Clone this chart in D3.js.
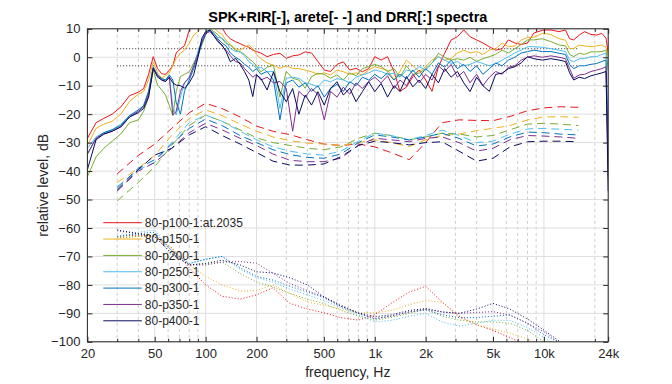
<!DOCTYPE html>
<html>
<head>
<meta charset="utf-8">
<script src="https://cdn.jsdelivr.net/npm/d3@7"></script>
<style>
  body { margin: 0; background: #fff; }
  text { font-family: Arial, "Liberation Sans", Helvetica, sans-serif; fill: #262626; }
</style>
</head>
<body>
<div id="chart"></div>
<script>
// Axis ticks
const xTicks = [20, 50, 100, 200, 500, 1000, 2000, 5000, 10000, 24000];
const xTickLabels = ["20", "50", "100", "200", "500", "1k", "2k", "5k", "10k", "24k"];
const xMinor = [30, 40, 60, 70, 80, 90, 300, 400, 600, 700, 800, 900, 3000, 4000, 6000, 7000, 8000, 9000, 20000];
const yTicks = [-100, -90, -80, -70, -60, -50, -40, -30, -20, -10, 0, 10];

const seriesNames = ["80-p100-1:at.2035", "80-p150-1", "80-p200-1", "80-p250-1", "80-p300-1", "80-p350-1", "80-p400-1"];
const seriesColors = ["#e8161b", "#edb120", "#77ac30", "#4dbeee", "#0072bd", "#7e2f8e", "#0a0a5e"];

// Reference band (+/-3 dB)
const refFreq = [30, 16000];
const refLevels = [3, -3];

// SPK+RIR spectra (solid)
const spkFreq = [20, 22.5, 25, 28, 31.5, 35.5, 40, 43, 46, 49,
  52, 55, 58, 61, 64, 67, 71, 75, 80, 85,
  90, 95, 100, 106, 112, 118, 125, 132, 140, 150,
  160, 170, 180, 190, 200,
  212, 231, 252, 275, 300, 327, 356, 388, 423, 461,
  503, 548, 598, 652, 711, 775, 845, 921, 1000, 1090,
  1190, 1300, 1410, 1540, 1680, 1830, 2000, 2180, 2380, 2590,
  2830, 3080, 3360, 3660, 4000, 4360, 4760, 5190, 5660, 6170,
  6730, 7340, 8000,
  8720, 9800, 11000, 12300, 13400, 14200, 15000, 16200, 17400, 19000,
  20500, 22000, 23300, 24000];

const spk_p100 = [-28.5, -23, -21.5, -20, -17.5, -13.5, -12.3, -11, -6, 0.2,
  -4, -5.8, -6, -4.5, -3, 1.5, 3, 4, 9.5, 12,
  13, 13, 13, 13, 12, 11, 10.5, 8, 6.5, 5.5,
  4.8, 4, 3.5, 2.5, 2,
  1.5, 0.2, 1, 1.4, -0.4, 0.5, 0.8, 1.9, 1.5, -1.5,
  -4.5, -5, -2.5, -1.6, -4.5, -3.9, -5.1, -4, 0.2, -1,
  0.2, -5, -12, -10.5, -6.8, -4.5, -8, -12, -3.3, 1.4,
  6.1, 7.2, 9.6, 7.2, 6.1, 5, 3.7, 2.5, 3, 6.1,
  5, 4.5, 5,
  8.5, 9.5, 9.6, 9, 9.6, 6.5, 6.1, 7.8, 9, 8,
  7.8, 8.4, 6.7, 1.4];

const spk_p150 = [-31, -25, -23.5, -22.5, -20, -15.5, -13, -12, -8, -1.6,
  -5.5, -7.2, -6.5, -5.6, -3, -0.4, 1.4, 2.5, 5, 7.8,
  9, 10.5, 11, 11, 10.5, 9, 8, 6, 4.5, 3,
  2.5, 3.5, 4.3, 3, 1,
  -0.5, -2, -2.8, -3.9, -3, -3.9, -4, -4.5, -5.1, -6,
  -5.5, -6.2, -4.5, -5.1, -6, -5.5, -6.2, -4.5, -3.3, -4,
  -4.5, -7.9, -5, -1, -3, -5, -3.3, -1, 0.2, -1,
  -0.5, 1.5, 2.5, 1.5, 2, 1, 2.5, 3, 5, 3.7,
  4, 6, 7,
  7, 8.4, 8, 6.5, 6, 3, 3.1, 4.3, 4, 3.7,
  4, 4.3, 3.5, 0.2];

const spk_p200 = [-42, -35, -32, -29.5, -27, -23, -22, -19, -14, -4.5,
  -9.8, -11.5, -13.3, -17, -20.5, -12, -6.8, -6, -5.1, -2,
  1, 4.3, 8, 10, 9, 8, 6.5, 4.8, 4.3, 2.5,
  1.9, 1, -0.5, -1.6, -3,
  -5.1, -3.5, -2.8, -14, -5, -7.4, -8, -10.9, -6.8, -5.6,
  -6, -7.4, -6.2, -8, -5.5, -6.5, -4, -3.3, -2.5, -3.3,
  -5, -4, -7, -3, -6, -5.6, -4, -2, 1.4, 0,
  -1, -0.5, -1, 0, -1.5, -0.5, 0.2, 1, 2.5, 1.5,
  3, 4.5, 6.1,
  6.1, 6.5, 5.5, 4.3, 4, 1, 0.2, 1.4, 1, 1.9,
  1.9, 2, 2.5, -4.5];

const spk_p250 = [-32, -28, -26.5, -25.5, -23.5, -20.5, -19, -17, -12, -3.3,
  -6.5, -7.5, -8, -6.5, -17.4, -20.3, -14, -9, -7.4, -3,
  2, 6, 8.5, 9.5, 8, 7, 6.7, 5.5, 3.1, 2,
  1.9, 0.5, -1.6, -2.5, -3.9,
  -3.5, -5.1, -5, -18, -7.4, -7, -7.4, -9, -9.5, -10.4,
  -8, -8.6, -7.5, -8, -9, -7, -6.2, -5.5, -4.5, -5,
  -6, -5.6, -7, -4.5, -5, -3.3, -4.5, -2, 0.2, -1,
  -2.2, -1.5, -3, -2.5, -1.5, -2.2, -3, -2.2, -1, 0.2,
  1.5, 2.5, 3.7,
  3.7, 3.5, 3, 2.5, 2, -1, -1.6, -0.5, -0.5, 0.2,
  0.2, 1, 1.4, -30];

const spk_p300 = [-34, -28.5, -26.5, -25.5, -24, -20.5, -18.5, -17, -12, -3.5,
  -6.2, -7.5, -8, -6.2, -8, -16, -20, -12, -8, -4,
  0, 5, 8, 9.5, 8.4, 6.5, 5, 4, 1.5, 0,
  -1, -2.5, -3.5, -5, -4,
  -6, -5, -8, -22, -9, -8, -10.5, -9, -12, -10,
  -14, -11, -9.5, -12, -8.6, -10, -7, -8, -6, -7.5,
  -5.5, -8, -6, -7.5, -4.5, -7, -4, -6, -2, -3.5,
  -1, -4, -2.5, -5, -3, -6, -4, -2, -3, -1,
  0, 1.5, 2,
  2.5, 2, 2, 1.4, 1, -2.5, -4, -3, -3, -2.5,
  -2.2, -1.5, -1, -38];

const spk_p350 = [-34, -28.5, -27, -26, -24.5, -21, -19, -17.5, -13, -3.8,
  -6.5, -8, -8.5, -7, -20.3, -19, -12, -9, -7, -3,
  1, 5.5, 8.5, 9, 7.5, 6, 4, 2.5, 0.5, -1.5,
  -2, -4, -5.5, -7, -6,
  -8, -7, -9, -8.5, -11, -26, -12, -14, -11, -13,
  -22, -12, -14, -10.5, -13, -9, -11, -8.5, -7, -9,
  -6.5, -11, -8, -10, -6, -9, -6, -8, -3, -5,
  -2.5, -7, -5, -9, -6, -10, -7, -5, -6, -3.5,
  -3, -1, 0,
  0.5, 0, 0.5, 0, -0.5, -4, -7.4, -6.2, -6, -5,
  -4.5, -4, -3.3, -42];

const spk_p400 = [-39.5, -29, -27, -26, -24.5, -21, -19.5, -18, -14, -4,
  -7, -8, -8.5, -7, -9, -9.8, -10, -10.9, -9, -6.2,
  0, 6.7, 9, 9.6, 7.5, 5.5, 4.3, 2, -1.6, -0.4,
  -2.5, -5.1, -8, -13.8, -6.2,
  -7.4, -11.5, -5.1, -12.1, -15.6, -11, -20, -13.3, -16.8, -12.1,
  -16.8, -10.9, -8.6, -13.3, -10.9, -15.6, -12.1, -8.6, -12.1, -9.2,
  -14, -10, -12, -6.8, -10.4, -8, -11, -6, -9, -4,
  -7, -5, -9, -12.1, -7, -10, -12, -6, -5.6, -4,
  -3.3, -2, 0.2,
  -0.5, -1, -0.5, -1, -1.5, -5.5, -8, -7, -7.5, -6.5,
  -6, -5.5, -5, -47];

// arete spectra (dashed)
const areteFreq = [30, 40, 50, 63, 80, 100, 125, 160, 200, 250, 315, 400, 500, 630,
  800, 1000, 1250, 1600, 2000, 2500, 3150, 4000, 5000, 6300, 8000, 10000, 12500, 16000];

const arete_p100 = [-41, -34.5, -30.5, -25, -19.5, -16.2, -18, -21, -24.2, -26, -27.2, -29, -30.5, -31,
  -30.5, -31.5, -33.5, -36, -30, -23, -22, -22.2, -22.3, -20.8, -18.8, -17.8, -17.4, -17.6];
const arete_p150 = [-44, -39, -34.5, -27.5, -21.5, -18.5, -20.5, -23.5, -26, -28, -29.3, -30.2, -30.5, -31,
  -30, -29, -30, -31.4, -29, -27.5, -27, -25.8, -25, -24, -22, -21, -20.9, -21.1];
const arete_p200 = [-50.5, -44, -38.5, -31, -24, -20.3, -22.5, -25.5, -28.3, -30, -31, -32, -32.5, -31.5,
  -28.5, -26.7, -27.5, -29, -28, -26.7, -27, -28, -27.5, -25.5, -23.5, -23.2, -23.5, -24];
const arete_p250 = [-45.5, -39.5, -37, -30, -23, -20.3, -22.5, -26, -29, -31.5, -33, -34, -34.4, -33,
  -29.5, -26.7, -27.5, -29, -27.5, -25.6, -27.5, -30, -29.5, -27, -25.2, -25, -25.3, -25.6];
const arete_p300 = [-46, -39, -36, -30.5, -25, -21.7, -24, -27.5, -30, -32.5, -34.2, -35.2, -35.5, -34,
  -30, -27.3, -28, -29.1, -28, -26.7, -28.5, -31.2, -30.5, -28, -26.3, -26.5, -27, -27.3];
const arete_p350 = [-47, -40, -37, -32, -26.5, -23.2, -25.5, -28.5, -31, -34, -36.2, -36.7, -36.7, -35.5,
  -31, -28.5, -29, -29.7, -28.5, -28, -30, -33, -32, -29, -27.5, -27.7, -28, -28.5];
const arete_p400 = [-46.7, -39.5, -34.4, -32, -27.3, -24.4, -27.5, -30.5, -33.5, -36.5, -37.9, -37.9, -37.5, -35,
  -31, -29.5, -30, -30.8, -30, -29.7, -33, -36.5, -35.5, -31.5, -29.7, -29.5, -29.5, -29.7];

// DRR spectra (dotted)
const drrFreq = [30, 40, 50, 63, 80, 100, 125, 160, 200, 250, 315, 400, 500, 630,
  800, 1000, 1250, 1600, 2000, 2500, 3150, 4000, 5000, 6300, 8000, 10000, 12500];

const drr_p100 = [-63, -62.5, -63, -67, -74, -80, -84, -85, -83.5, -81, -86.5, -88.5, -89.8, -91.5,
  -92.4, -90.5, -86.5, -82.5, -80.5, -86, -91, -94, -96, -98.5, -101.5, -104, -107];
const drr_p150 = [-63.5, -63, -63, -67, -73, -77, -80, -82.2, -82, -80, -83, -86, -87.2, -88.5,
  -89.8, -89.8, -89, -87, -85.5, -86, -91.5, -94, -95.5, -97, -99, -101.5, -104];
const drr_p200 = [-63.5, -63, -62.5, -68, -73, -72.5, -72, -76, -79, -80.7, -83, -85, -86.5, -89,
  -91, -92.4, -91.5, -90, -88.6, -91, -92.4, -93, -93, -93.5, -96, -100, -103];
const drr_p250 = [-63, -61.5, -60.7, -68, -72.5, -71, -70, -74.5, -77.5, -79, -81.5, -83.5, -85.5, -88,
  -90.5, -93, -92.5, -91, -90, -93, -94.5, -93.5, -92.4, -92.5, -95, -98.5, -102];
const drr_p300 = [-63, -62, -61.5, -68, -72.5, -71, -70, -74, -77, -78.3, -80.5, -82.5, -84.5, -87.5,
  -90, -92, -91, -89.5, -88.8, -90.5, -91.5, -91.5, -91, -90.6, -93.5, -97.5, -100.5];
const drr_p350 = [-61, -62, -63, -69, -73, -73, -72, -71.8, -72.4, -75.9, -79.5, -82, -84.2, -87,
  -90, -91.8, -91, -89.5, -88.6, -89.5, -90, -89.7, -89.4, -90.6, -93.5, -96.5, -100.5];
const drr_p400 = [-60.7, -62, -63, -69, -73, -72.5, -71.3, -73, -75.4, -75.8, -77.5, -80, -84.2, -87.5,
  -89.8, -91.2, -90.5, -89, -88.3, -89.5, -90, -88.5, -86.5, -88.5, -92, -95.9, -100];

const spkSeries = [spk_p100, spk_p150, spk_p200, spk_p250, spk_p300, spk_p350, spk_p400];
const areteSeries = [arete_p100, arete_p150, arete_p200, arete_p250, arete_p300, arete_p350, arete_p400];
const drrSeries = [drr_p100, drr_p150, drr_p200, drr_p250, drr_p300, drr_p350, drr_p400];

function createSpectraChart(selector) {
    const totalWidth = 672;
    const totalHeight = 384;
    const margin = {top: 28.8, right: 63.8, bottom: 42.2, left: 87.4};
    const width = totalWidth - margin.left - margin.right;
    const height = totalHeight - margin.top - margin.bottom;
    const axisColor = "#262626";

    const xScale = d3.scaleLog()
        .domain([20, 24000])
        .range([0, width]);

    const yScale = d3.scaleLinear()
        .domain([-100, 10])
        .range([height, 0]);

    const svg = d3.select(selector)
        .append("svg")
        .attr("width", totalWidth)
        .attr("height", totalHeight);

    svg.append("defs").append("clipPath")
        .attr("id", "plot-clip")
        .append("rect")
        .attr("width", width)
        .attr("height", height);

    const g = svg.append("g")
        .attr("transform", "translate(" + margin.left + "," + margin.top + ")");

    // Minor grid (log decades)
    g.append("g").selectAll("line")
        .data(xMinor)
        .enter().append("line")
        .attr("x1", d => xScale(d))
        .attr("x2", d => xScale(d))
        .attr("y1", 0)
        .attr("y2", height)
        .attr("stroke", "#cdcdcd")
        .attr("stroke-width", 1)
        .attr("stroke-dasharray", "3,3");

    // Major grid
    g.append("g").selectAll("line")
        .data(xTicks)
        .enter().append("line")
        .attr("x1", d => xScale(d))
        .attr("x2", d => xScale(d))
        .attr("y1", 0)
        .attr("y2", height)
        .attr("stroke", "#dedede")
        .attr("stroke-width", 1);

    g.append("g").selectAll("line")
        .data(yTicks)
        .enter().append("line")
        .attr("x1", 0)
        .attr("x2", width)
        .attr("y1", d => yScale(d))
        .attr("y2", d => yScale(d))
        .attr("stroke", "#dedede")
        .attr("stroke-width", 1);

    const plot = g.append("g").attr("clip-path", "url(#plot-clip)");

    // +/-3 dB reference lines
    plot.selectAll(".ref")
        .data(refLevels)
        .enter().append("line")
        .attr("class", "ref")
        .attr("x1", xScale(refFreq[0]))
        .attr("x2", xScale(refFreq[1]))
        .attr("y1", d => yScale(d))
        .attr("y2", d => yScale(d))
        .attr("stroke", "#333")
        .attr("stroke-width", 1)
        .attr("stroke-dasharray", "1,2");

    const line = d3.line()
        .x(d => xScale(d[0]))
        .y(d => yScale(d[1]));

    // Draw one solid, dashed and dotted curve per measurement
    seriesNames.forEach((name, i) => {
        plot.append("path")
            .attr("d", line(d3.zip(drrFreq, drrSeries[i])))
            .attr("fill", "none")
            .attr("stroke", seriesColors[i])
            .attr("stroke-width", 1)
            .attr("stroke-dasharray", "1,2");

        plot.append("path")
            .attr("d", line(d3.zip(areteFreq, areteSeries[i])))
            .attr("fill", "none")
            .attr("stroke", seriesColors[i])
            .attr("stroke-width", 1)
            .attr("stroke-dasharray", "8,5");
    });

    seriesNames.forEach((name, i) => {
        plot.append("path")
            .attr("d", line(d3.zip(spkFreq, spkSeries[i])))
            .attr("fill", "none")
            .attr("stroke", seriesColors[i])
            .attr("stroke-width", 1)
            .attr("stroke-linejoin", "round");
    });

    // Axes (ticks inside, box on)
    const xAxis = g.append("g")
        .attr("transform", "translate(0," + height + ")")
        .call(d3.axisBottom(xScale)
            .tickValues(xTicks)
            .tickFormat((d, i) => xTickLabels[i])
            .tickSize(-5)
            .tickPadding(7));

    g.append("g")
        .attr("transform", "translate(0," + height + ")")
        .call(d3.axisBottom(xScale).tickValues(xMinor).tickFormat("").tickSize(-3));

    g.append("g")
        .call(d3.axisTop(xScale).tickValues(xTicks).tickFormat("").tickSize(-5));

    g.append("g")
        .call(d3.axisTop(xScale).tickValues(xMinor).tickFormat("").tickSize(-3));

    const yAxis = g.append("g")
        .call(d3.axisLeft(yScale)
            .tickValues(yTicks)
            .tickSize(-5)
            .tickPadding(7));

    g.append("g")
        .attr("transform", "translate(" + width + ",0)")
        .call(d3.axisRight(yScale).tickValues(yTicks).tickFormat("").tickSize(-5));

    g.selectAll(".domain").remove();
    g.selectAll(".tick line").attr("stroke", axisColor);
    g.selectAll(".tick text")
        .style("font-size", "13px")
        .style("fill", axisColor);

    g.append("rect")
        .attr("width", width)
        .attr("height", height)
        .attr("fill", "none")
        .attr("stroke", axisColor)
        .attr("stroke-width", 1);

    // Legend (no box)
    const legend = g.append("g")
        .attr("transform", "translate(" + (103.3 - margin.left) + "," + (222.7 - margin.top) + ")");

    const rows = legend.selectAll("g")
        .data(seriesNames)
        .enter().append("g")
        .attr("transform", (d, i) => "translate(0," + i * 16.35 + ")");

    rows.append("line")
        .attr("x1", 0)
        .attr("x2", 38.5)
        .attr("stroke", (d, i) => seriesColors[i])
        .attr("stroke-width", 1);

    rows.append("text")
        .attr("x", 41.5)
        .attr("y", 4.3)
        .style("font-size", "12px")
        .text(d => d);

    // Labels
    svg.append("text")
        .attr("x", margin.left + width / 2)
        .attr("y", 22)
        .attr("text-anchor", "middle")
        .style("font-size", "14.5px")
        .style("font-weight", "bold")
        .style("fill", "#000")
        .text("SPK+RIR[-], arete[- -] and DRR[:] spectra");

    svg.append("text")
        .attr("x", margin.left + width / 2)
        .attr("y", 377)
        .attr("text-anchor", "middle")
        .style("font-size", "14px")
        .text("frequency, Hz");

    svg.append("text")
        .attr("transform", "translate(48," + (margin.top + height / 2) + ") rotate(-90)")
        .attr("text-anchor", "middle")
        .style("font-size", "14px")
        .text("relative level, dB");
}

createSpectraChart("#chart");
</script>
</body>
</html>
